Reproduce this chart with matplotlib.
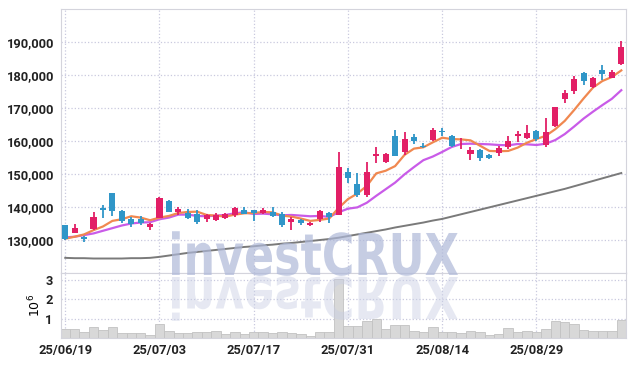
import numpy as np
import matplotlib
matplotlib.use('Agg')
import matplotlib.pyplot as plt
from matplotlib.textpath import TextPath
from matplotlib.patches import PathPatch
from matplotlib.font_manager import FontProperties
from matplotlib.transforms import Affine2D, IdentityTransform

# daily candles, 2025-06-19 .. 2025-09-11 (KRW)
opens = [134500, 132100, 130900, 133200, 139600, 144200, 138700, 136300, 136300, 133900,
         136700, 141700, 138500, 138100, 137700, 136400, 136100, 136600, 137500, 138900,
         138900, 138000, 138400, 137700, 135400, 136100, 134500, 136200, 138100, 137600,
         150600, 146900, 143500, 155500, 153500, 161400, 156500, 161000, 158500, 160200,
         162900, 161400, 159200, 156100, 157200, 155700, 156300, 158200, 161300, 160700,
         162900, 158700, 164500, 172600, 175100, 180600, 176400, 181400, 179100, 183300]
highs = [134600, 134900, 131100, 138300, 140500, 144300, 138900, 137000, 137200, 135000,
         142800, 142100, 139900, 139300, 138900, 137700, 138000, 138000, 139800, 139900,
         139100, 139500, 140000, 138300, 137000, 136300, 135300, 139000, 138400, 156700,
         151800, 150300, 153400, 158000, 156400, 163200, 162500, 162000, 159300, 164000,
         163900, 161600, 160700, 158200, 157400, 155900, 158500, 161500, 162900, 164800,
         163100, 166800, 170300, 175300, 179600, 180900, 179300, 182900, 181400, 190200]
lows = [130000, 131900, 129200, 133000, 136700, 137200, 135000, 133900, 134600, 133000,
        136500, 138300, 137500, 136300, 134900, 135500, 135800, 136300, 137000, 137700,
        135700, 137800, 137000, 134000, 132900, 134500, 134300, 135500, 135000, 137400,
        147100, 142800, 142800, 153300, 153300, 155300, 155700, 159000, 157900, 159900,
        161500, 158200, 157400, 154200, 154000, 154600, 155500, 157400, 159500, 160400,
        160000, 158000, 164300, 171500, 174100, 176900, 176100, 178400, 178900, 182800]
closes = [130200, 133500, 130300, 136900, 139100, 138700, 135800, 134900, 135100, 134900,
          142700, 138500, 139200, 136700, 135500, 137500, 137500, 137700, 139600, 137900,
          138000, 138900, 137200, 134600, 136400, 135100, 135100, 138700, 136800, 152100,
          148800, 143400, 150600, 156100, 156100, 155500, 160400, 160000, 158200, 163200,
          162600, 158400, 159400, 157100, 154800, 154900, 157900, 159900, 161900, 162400,
          160500, 162600, 170100, 174500, 178600, 178200, 179000, 180100, 180700, 188300]
# volume, millions of shares
volume = [0.45, 0.45, 0.31, 0.55, 0.39, 0.55, 0.24, 0.24, 0.24, 0.17,
          0.75, 0.36, 0.24, 0.24, 0.29, 0.29, 0.34, 0.21, 0.29, 0.21,
          0.29, 0.29, 0.27, 0.29, 0.24, 0.21, 0.10, 0.29, 0.29, 3.06,
          0.62, 0.62, 0.87, 0.97, 0.46, 0.67, 0.67, 0.37, 0.32, 0.55,
          0.29, 0.31, 0.24, 0.36, 0.31, 0.14, 0.21, 0.50, 0.32, 0.36,
          0.29, 0.46, 0.87, 0.82, 0.73, 0.41, 0.36, 0.36, 0.36, 0.92]
# moving averages as shown (thousand KRW)
ma5 = [130.3, 130.9, 131.6, 132.9, 134.0, 135.7, 136.2, 137.1, 136.7, 135.9,
       136.7, 137.2, 138.1, 138.4, 138.5, 137.5, 137.3, 137.0, 137.6, 138.0,
       138.1, 138.4, 138.3, 137.3, 137.0, 136.4, 135.7, 136.0, 136.4, 139.6,
       142.3, 144.0, 146.3, 150.1, 150.9, 152.3, 155.7, 157.6, 158.0, 159.5,
       160.9, 160.5, 160.4, 160.1, 158.5, 156.9, 156.8, 156.9, 157.9, 159.4,
       160.5, 161.5, 163.5, 166.0, 169.3, 172.8, 176.1, 178.1, 179.3, 181.3]
ma10 = [130.7, 130.9, 131.4, 131.9, 132.7, 133.5, 134.3, 134.9, 135.2, 135.3,
        136.2, 136.7, 137.6, 137.6, 137.2, 137.1, 137.3, 137.5, 138.0, 138.3,
        137.8, 137.9, 137.7, 137.4, 137.5, 137.3, 137.1, 137.2, 136.9, 138.3,
        139.4, 139.8, 141.2, 143.3, 145.3, 147.3, 149.8, 152.0, 154.1, 155.2,
        156.6, 158.1, 159.0, 159.1, 159.0, 158.9, 158.7, 158.6, 159.0, 158.9,
        158.7, 159.1, 160.2, 162.0, 164.3, 166.7, 168.8, 170.8, 172.7, 175.3]
ma60 = [124.5, 124.4, 124.4, 124.3, 124.3, 124.3, 124.3, 124.4, 124.4, 124.5,
        124.8, 125.2, 125.6, 126.0, 126.3, 126.6, 126.9, 127.2, 127.5, 127.8,
        128.0, 128.3, 128.5, 128.8, 129.0, 129.3, 129.6, 129.9, 130.2, 130.6,
        131.1, 131.6, 132.1, 132.6, 133.1, 133.7, 134.2, 134.7, 135.2, 135.8,
        136.3, 137.0, 137.7, 138.4, 139.1, 139.8, 140.5, 141.2, 141.9, 142.6,
        143.3, 144.0, 144.7, 145.4, 146.2, 147.0, 147.8, 148.6, 149.4, 150.2]
tick_idx = [0, 10, 20, 30, 40, 50]
tick_labels = ['25/06/19', '25/07/03', '25/07/17', '25/07/31', '25/08/14', '25/08/29']

RED = '#e21f66'
BLUE = '#3096c8'
GRID = '#c9c9df'
SPINE = '#d4d4dc'
FONT = 'Roboto'

o = np.array(opens); h = np.array(highs); l = np.array(lows); c = np.array(closes)
x = np.arange(len(c))
cols = np.where(c >= o, RED, BLUE)

fig = plt.figure(figsize=(6.34, 3.66), dpi=100)
ax = fig.add_axes([61/634, 93.3/366, 565/634, 264/366])
axv = fig.add_axes([61/634, 28/366, 565/634, 65.3/366], sharex=ax)

ax.plot(x, np.array(ma60) * 1000, color='#7a7a7a', lw=1.4, zorder=2)
ax.plot(x, np.array(ma10) * 1000, color='#c95be8', lw=1.6, zorder=2)
ax.plot(x, np.array(ma5) * 1000, color='#f08850', lw=1.6, zorder=2)

ax.vlines(x, l, h, color=cols, lw=1.3, zorder=3)
body = np.maximum(np.abs(c - o), 250)
ax.bar(x, body, bottom=np.minimum(o, c), width=0.64, color=cols, zorder=4)

ax.set_ylim(120000, 200000)
ax.set_yticks(range(130000, 200000, 10000))
ax.set_yticklabels([f'{v:,}' for v in range(130000, 200000, 10000)])
ax.set_xlim(-0.45, 59.5)
ax.set_xticks(tick_idx)
ax.tick_params(axis='x', labelbottom=False, length=0)
ax.tick_params(axis='y', length=0, pad=5)
ax.grid(True, color=GRID, ls=':', lw=0.9)

axv.bar(x, volume, width=1.0, color='#d8d8d8', edgecolor='#c2c2c2', lw=0.6, zorder=2)
axv.set_ylim(0, 3.38)
axv.set_yticks([1, 2, 3])
axv.set_xticks(tick_idx)
axv.set_xticklabels(tick_labels)
axv.tick_params(axis='both', length=0)
axv.tick_params(axis='y', pad=6)
axv.tick_params(axis='x', pad=4)
axv.grid(True, color=GRID, ls=':', lw=0.9)
axv.set_ylabel(r'$10^6$', fontsize=9, labelpad=1)

for a in (ax, axv):
    a.set_axisbelow(True)
    for s in a.spines.values():
        s.set_color(SPINE)
    for t in a.get_xticklabels() + a.get_yticklabels():
        t.set_fontfamily(FONT)
        t.set_fontweight('bold')
        t.set_fontsize(9.3)
        t.set_color('#222222')

# watermark with reflection
tp = TextPath((0, 0), 'investCRUX', size=100,
              prop=FontProperties(family='DejaVu Sans', weight='bold'))
ext = tp.get_extents()
sx = 286 / ext.width
sy = 42 / 72.9
x0 = 172 - ext.x0 * sx
wm = Affine2D().scale(sx, sy).translate(x0, 91)
fig.add_artist(PathPatch(wm.transform_path(tp), transform=IdentityTransform(),
                         color='#aeb8d8', alpha=0.7, lw=0, zorder=5))
rf = Affine2D().scale(sx, -sy).translate(x0, 89)
fig.add_artist(PathPatch(rf.transform_path(tp), transform=IdentityTransform(),
                         color='#c8cee4', alpha=0.45, lw=0, zorder=5))

fig.savefig('out.png', dpi=100)
